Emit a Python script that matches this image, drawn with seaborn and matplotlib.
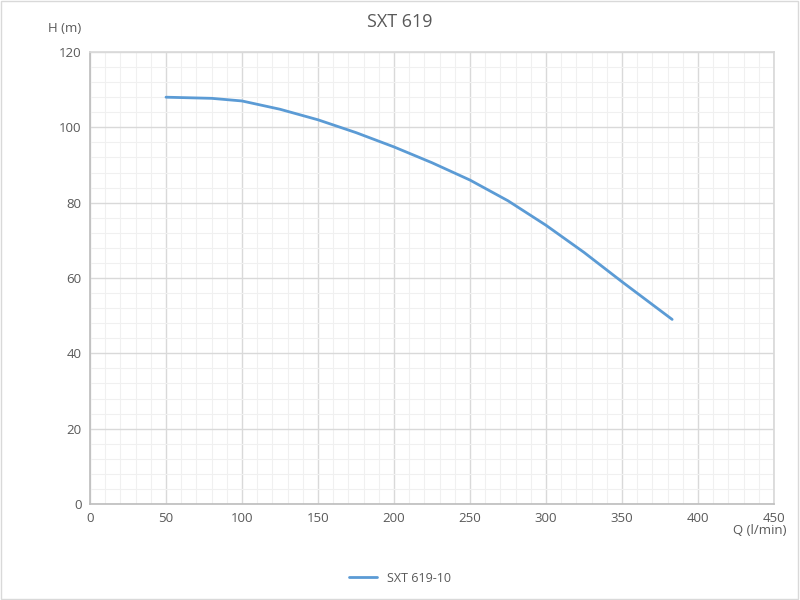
import matplotlib
matplotlib.use("Agg")
import matplotlib.pyplot as plt
import numpy as np
import pandas as pd
import seaborn as sns
from matplotlib.patches import Rectangle
from matplotlib.ticker import MultipleLocator

# values
flow = [50, 80, 100, 125, 150, 175, 200, 225, 250, 275, 300, 325, 350, 383]
head = [108.0, 107.7, 107.0, 104.8, 102.0, 98.6, 94.8, 90.6, 86.0, 80.5, 74.0, 66.8, 59.0, 49.0]
series_name = "SXT 619-10"

sns.set_theme(style="white")
plt.rcParams['font.family'] = ['Open Sans', 'DejaVu Sans']

df = pd.DataFrame({"Q": flow, "H": head, "curve": series_name})

txt = "#595959"
fig = plt.figure(figsize=(8, 6), dpi=100)
ax = fig.add_axes([90 / 800, 1 - 504 / 600, 684 / 800, 452 / 600])

sns.lineplot(data=df, x="Q", y="H", hue="curve", palette=["#5B9BD5"],
             linewidth=2, ax=ax, legend=False)

ax.set_xlim(0, 450)
ax.set_ylim(0, 120)
ax.xaxis.set_major_locator(MultipleLocator(50))
ax.xaxis.set_minor_locator(MultipleLocator(10))
ax.yaxis.set_major_locator(MultipleLocator(20))
ax.yaxis.set_minor_locator(MultipleLocator(4))
ax.grid(which="major", color="#D9D9D9", linewidth=1)
ax.grid(which="minor", color="#F0F0F0", linewidth=0.8)
ax.set_axisbelow(True)
for s in ax.spines.values():
    s.set_color("#D9D9D9")
ax.spines["bottom"].set_color("#BFBFBF")
ax.spines["left"].set_color("#BFBFBF")
ax.tick_params(axis="both", which="both", length=0, colors=txt, labelsize=9.5, pad=6)
ax.set_xlabel("")
ax.set_ylabel("")

fig.text(400 / 800, 1 - 22 / 600, "SXT 619", ha="center", va="center", fontsize=13, color=txt)
fig.text(65 / 800, 1 - 28 / 600, "H (m)", ha="center", va="center", fontsize=9.5, color=txt)
fig.text(760 / 800, 1 - 531 / 600, "Q (l/min)", ha="center", va="center", fontsize=9.5, color=txt)

# legend at bottom
handle = plt.Line2D([], [], color="#5B9BD5", linewidth=2)
fig.legend([handle], [series_name], loc="center", bbox_to_anchor=(400 / 800, 1 - 578 / 600),
           frameon=False, fontsize=9, labelcolor=txt, handlelength=2.2)

fig.patches.append(Rectangle((0.001, 0.001), 0.997, 0.997, transform=fig.transFigure,
                             fill=False, edgecolor="#D9D9D9", linewidth=1))

fig.savefig("out.png", dpi=100)
